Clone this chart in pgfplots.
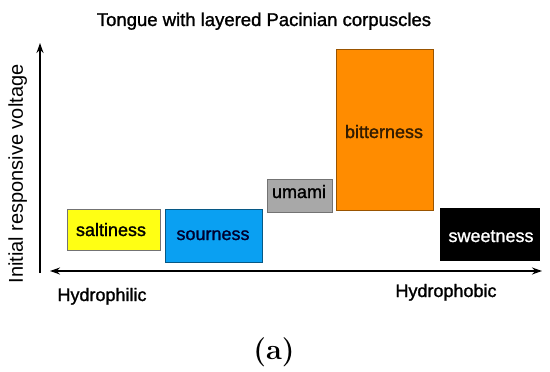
\documentclass[border=0pt]{standalone}
\usepackage{pgfplots}
\pgfplotsset{compat=1.18}
\usetikzlibrary{arrows.meta}
\usepackage{fontspec}
\setmainfont{Liberation Sans}
\newfontfamily\semib{Liberation Sans}[FakeBold=1.3]
\newfontfamily\lmserif{Latin Modern Roman}

\definecolor{salt}{HTML}{FFFF14}
\definecolor{sour}{HTML}{0AA0F2}
\definecolor{umami}{HTML}{A8A8A8}
\definecolor{bitter}{HTML}{FF8C00}
\definecolor{sweet}{HTML}{000000}

\tikzset{lbl/.style={font=\semib\fontsize{18}{20}\selectfont, anchor=base}}

\begin{document}
\begin{tikzpicture}
\begin{axis}[
    scale only axis,
    width=550pt, height=372pt,
    xmin=0, xmax=550, ymin=0, ymax=372,
    y dir=reverse,
    hide axis,
    clip=false,
    every axis plot/.append style={line width=0.8pt},
]
% boxes: x0, x1, top, bottom (pixels)
\addplot[fill=salt, draw=black!55] coordinates {(67,209) (160,209) (160,250) (67,250)} -- cycle;
\addplot[fill=sour, draw=black!45!sour] coordinates {(165,209) (262,209) (262,262) (165,262)} -- cycle;
\addplot[fill=umami, draw=black!55] coordinates {(267,179) (332,179) (332,212) (267,212)} -- cycle;
\addplot[fill=bitter, draw=black!40!bitter] coordinates {(336,49) (433,49) (433,210) (336,210)} -- cycle;
\addplot[fill=sweet, draw=black] coordinates {(440,208) (539,208) (539,260) (440,260)} -- cycle;

% axes
\addplot[line width=1.4pt, -{Stealth[length=10pt,width=7pt]}] coordinates {(40,273) (40,43)};
\addplot[line width=1.4pt, {Stealth[length=10pt,width=7pt]}-{Stealth[length=10pt,width=7pt]}] coordinates {(50,271) (542,271)};

\node[lbl] at (axis cs:111,236) {saltiness};
\node[lbl, text=black!82!blue] at (axis cs:213,240) {sourness};
\node[lbl] at (axis cs:299,198) {umami};
\node[lbl, text=black!80!bitter] at (axis cs:384,138) {bitterness};
\node[lbl, text=white] at (axis cs:491,242) {sweetness};

\node[lbl, font=\semib\fontsize{18.5}{20}\selectfont] at (axis cs:264,26) {Tongue with layered Pacinian corpuscles};
\node[lbl] at (axis cs:102,301) {Hydrophilic};
\node[lbl] at (axis cs:446,297) {Hydrophobic};
\node[anchor=base, font=\fontsize{20}{22}\selectfont, rotate=90] at (axis cs:23,174) {Initial responsive voltage};
\node[font=\lmserif\bfseries\fontsize{29}{30}\selectfont] at (axis cs:274,352) {(a)};
\end{axis}
\pgfresetboundingbox
\path (current axis.south west) rectangle (current axis.north east);
\end{tikzpicture}
\end{document}
